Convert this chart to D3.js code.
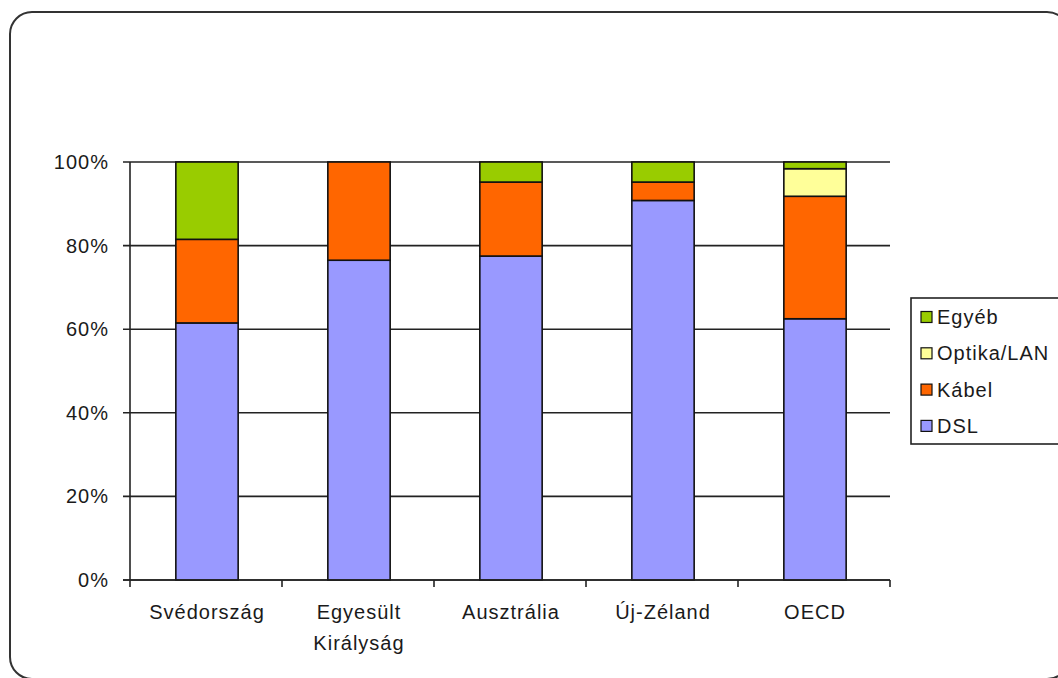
<!DOCTYPE html>
<html>
<head>
<meta charset="utf-8">
<script src="https://cdn.jsdelivr.net/npm/d3@7"></script>
<style>
  body { margin: 0; background: #fff; }
  text { font-family: "Liberation Sans", Arial, sans-serif; fill: #1a1a1a; }
</style>
</head>
<body>
<div id="chart"></div>
<script>
/* chart data */
var categories = ["Svédország", "Egyesült Királyság", "Ausztrália", "Új-Zéland", "OECD"];
var dsl    = [61.5, 76.5, 77.5, 90.8, 62.5];
var kabel  = [20.0, 23.5, 17.7,  4.4, 29.3];
var optika = [ 0.0,  0.0,  0.0,  0.0,  6.6];
var egyeb  = [18.5,  0.0,  4.8,  4.8,  1.6];
var seriesNames = ["DSL", "Kábel", "Optika/LAN", "Egyéb"];
var seriesColors = ["#9999ff", "#ff6600", "#ffff99", "#99cc00"];
var yTicks = [0, 20, 40, 60, 80, 100];

var W = 1058, H = 678;
var plot = { left: 130, right: 890, top: 162, bottom: 580 };
var fontSize = "20px";

var svg = d3.select("#chart")
            .append("svg")
            .attr("width", W)
            .attr("height", H);

// outer rounded frame (runs off the right/bottom edge like the original)
svg.append("rect")
   .attr("x", 10).attr("y", 12)
   .attr("width", 1059).attr("height", 667)
   .attr("rx", 22).attr("ry", 22)
   .style("fill", "none")
   .style("stroke", "#333")
   .style("stroke-width", 2);

var rows = categories.map(function (c, i) {
  return { cat: c, "DSL": dsl[i], "Kábel": kabel[i], "Optika/LAN": optika[i], "Egyéb": egyeb[i] };
});

var stacked = d3.stack().keys(seriesNames)(rows);

var x = d3.scaleBand()
          .domain(categories)
          .range([plot.left, plot.right])
          .padding(0);

var y = d3.scaleLinear()
          .domain([0, 100])
          .range([plot.bottom, plot.top]);

/* gridlines + y ticks */
svg.selectAll()
   .data(yTicks)
   .enter()
   .append("line")
   .attr("x1", plot.left - 7)
   .attr("x2", plot.right)
   .attr("y1", function (d) { return y(d); })
   .attr("y2", function (d) { return y(d); })
   .style("stroke", "#222")
   .style("stroke-width", 1.6);

svg.selectAll()
   .data(yTicks)
   .enter()
   .append("text")
   .attr("x", 109)
   .attr("y", function (d) { return y(d); })
   .attr("dy", "0.35em")
   .style("text-anchor", "end")
   .style("font-size", fontSize)
   .style("letter-spacing", "1px")
   .text(function (d) { return d + "%"; });

/* bars */
var barW = x.bandwidth() * 0.41;
svg.selectAll()
   .data(stacked)
   .enter()
   .append("g")
   .style("fill", function (d, i) { return seriesColors[i]; })
   .selectAll("rect")
   .data(function (d) { return d.filter(function (p) { return p[1] - p[0] > 0; }); })
   .enter()
   .append("rect")
   .attr("x", function (d) { return x(d.data.cat) + x.bandwidth() / 2 - barW / 2 + 1; })
   .attr("y", function (d) { return y(d[1]); })
   .attr("width", barW)
   .attr("height", function (d) { return y(d[0]) - y(d[1]); })
   .style("stroke", "#111")
   .style("stroke-width", 1.6);

/* axes lines */
svg.append("line")
   .attr("x1", plot.left).attr("x2", plot.left)
   .attr("y1", plot.top).attr("y2", plot.bottom)
   .style("stroke", "#222").style("stroke-width", 1.6);

svg.append("line")
   .attr("x1", plot.left - 7).attr("x2", plot.right)
   .attr("y1", plot.bottom).attr("y2", plot.bottom)
   .style("stroke", "#222").style("stroke-width", 1.6);

var xTickPos = categories.map(function (c) { return x(c); }).concat([plot.right]);
svg.selectAll()
   .data(xTickPos)
   .enter()
   .append("line")
   .attr("x1", function (d) { return d; })
   .attr("x2", function (d) { return d; })
   .attr("y1", plot.bottom)
   .attr("y2", plot.bottom + 7)
   .style("stroke", "#222").style("stroke-width", 1.6);

/* category labels */
svg.selectAll()
   .data(categories)
   .enter()
   .append("text")
   .attr("x", function (d) { return x(d) + x.bandwidth() / 2 + 1; })
   .attr("y", 612)
   .style("text-anchor", "middle")
   .style("font-size", fontSize)
   .style("letter-spacing", "1px")
   .each(function (d) {
     var parts = d.split(" ");
     var t = d3.select(this);
     parts.forEach(function (p, i) {
       t.append("tspan")
        .attr("x", t.attr("x"))
        .attr("dy", i === 0 ? "0.35em" : "31px")
        .text(p);
     });
   });

/* legend */
var legend = svg.append("g");
legend.append("rect")
      .attr("x", 911).attr("y", 298)
      .attr("width", 160).attr("height", 146)
      .style("fill", "#fff")
      .style("stroke", "#222")
      .style("stroke-width", 1.6);

var legendOrder = seriesNames.slice().reverse();
var legendColors = seriesColors.slice().reverse();
var legItems = legend.selectAll()
      .data(legendOrder)
      .enter()
      .append("g")
      .attr("transform", function (d, i) { return "translate(0," + (317 + i * 36.3) + ")"; });

legItems.append("rect")
        .attr("x", 921).attr("y", -5.5)
        .attr("width", 11).attr("height", 11)
        .style("fill", function (d, i) { return legendColors[i]; })
        .style("stroke", "#111")
        .style("stroke-width", 1.2);

legItems.append("text")
        .attr("x", 937)
        .attr("dy", "0.35em")
        .style("font-size", fontSize)
        .style("letter-spacing", "1px")
        .text(function (d) { return d; });
</script>
</body>
</html>
